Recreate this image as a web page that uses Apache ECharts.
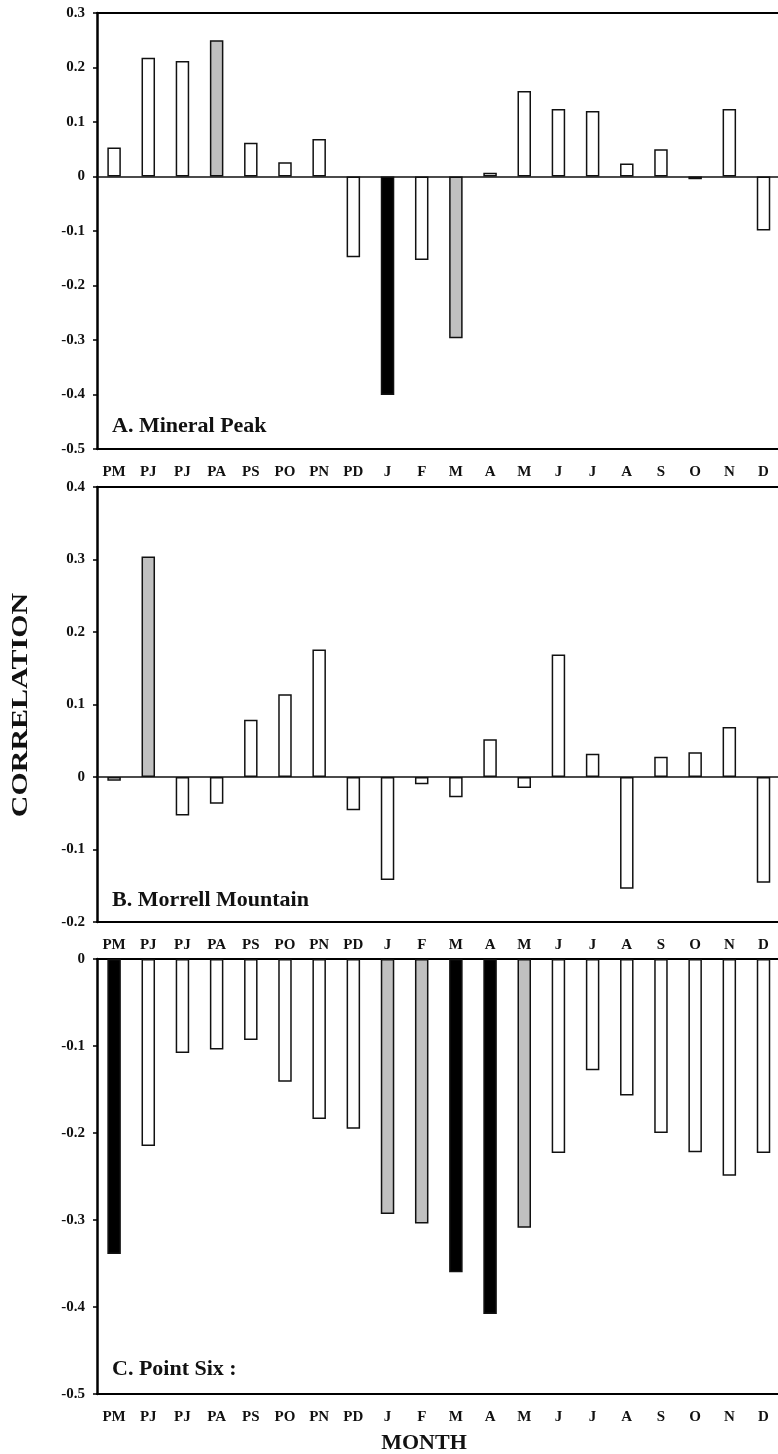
<!DOCTYPE html>
<html>
<head>
<meta charset="utf-8">
<style>
  html, body { margin: 0; padding: 0; background: #fff; }
  #chart { width: 778px; height: 1454px; }
</style>
<script src="https://cdn.jsdelivr.net/npm/echarts@6/dist/echarts.min.js"></script>
</head>
<body>
<div id="chart"></div>
<script>
// Monthly correlation of tree-ring index with climate, previous (P) and current year
const months = ['PM','PJ','PJ','PA','PS','PO','PN','PD','J','F','M','A','M','J','J','A','S','O','N','D'];

const mineralPeak = [0.053, 0.218, 0.212, 0.250, 0.062, 0.026, 0.069, -0.148, -0.401, -0.153,
                     -0.297, 0.007, 0.157, 0.124, 0.120, 0.024, 0.050, -0.005, 0.124, -0.099];
const morrellMountain = [-0.005, 0.304, -0.053, -0.037, 0.079, 0.114, 0.176, -0.046, -0.142, -0.010,
                         -0.028, 0.052, -0.015, 0.169, 0.032, -0.154, 0.028, 0.034, 0.069, -0.146];
const pointSix = [-0.339, -0.215, -0.108, -0.104, -0.093, -0.141, -0.184, -0.195, -0.293, -0.304,
                  -0.360, -0.408, -0.309, -0.223, -0.128, -0.157, -0.200, -0.222, -0.249, -0.223];

// significance class per bar: 0 = n.s., 1 = grey, 2 = black
const sigMineral = [0,0,0,1,0,0,0,0,2,0,1,0,0,0,0,0,0,0,0,0];
const sigMorrell = [0,1,0,0,0,0,0,0,0,0,0,0,0,0,0,0,0,0,0,0];
const sigPoint   = [2,0,0,0,0,0,0,0,1,1,2,2,1,0,0,0,0,0,0,0];

const panelTitles = ['A. Mineral Peak', 'B. Morrell Mountain', 'C. Point Six :'];
const yRanges = [[-0.5, 0.3], [-0.2, 0.4], [-0.5, 0]];

const fills = ['#ffffff', '#c0c0c0', '#000000'];
const SERIF = "'Liberation Serif', 'Times New Roman', serif";

const grids = [
  { left: 97, top: 13, width: 683.6, height: 436 },
  { left: 97, top: 487, width: 683.6, height: 435 },
  { left: 97, top: 959, width: 683.6, height: 435 }
];

const seriesValues = [mineralPeak, morrellMountain, pointSix];
const seriesSig = [sigMineral, sigMorrell, sigPoint];

const option = {
  animation: false,
  backgroundColor: '#fff',
  grid: grids.map(g => Object.assign({
    show: false, containLabel: false, outerBoundsMode: 'none'
  }, g)),
  xAxis: [],
  yAxis: [],
  series: [],
  graphic: []
};

grids.forEach((g, i) => {
  // zero line
  option.xAxis.push({
    type: 'category', gridIndex: i, data: months,
    axisLine: { show: true, onZero: true, lineStyle: { color: '#111', width: 1.5 } },
    axisTick: { show: false }, axisLabel: { show: false }, splitLine: { show: false }
  });
  // bottom frame edge with month labels
  option.xAxis.push({
    type: 'category', gridIndex: i, data: months, position: 'bottom',
    axisLine: { show: true, onZero: false, lineStyle: { color: '#000', width: 2 } },
    axisTick: { show: false },
    axisLabel: {
      show: true, interval: 0, margin: 16,
      fontFamily: SERIF, fontWeight: 'bold', fontSize: 15, color: '#111'
    },
    splitLine: { show: false }
  });
  // top frame edge
  option.xAxis.push({
    type: 'category', gridIndex: i, data: months, position: 'top',
    axisLine: { show: true, onZero: false, lineStyle: { color: '#000', width: 2 } },
    axisTick: { show: false }, axisLabel: { show: false }, splitLine: { show: false }
  });
  option.yAxis.push({
    type: 'value', gridIndex: i, min: yRanges[i][0], max: yRanges[i][1], interval: 0.1,
    axisLine: { show: true, lineStyle: { color: '#000', width: 2.5 } },
    axisTick: { show: true, inside: false, length: 4, lineStyle: { color: '#000', width: 1.5 } },
    splitLine: { show: false },
    axisLabel: {
      margin: 12, fontFamily: SERIF, fontWeight: 'bold', fontSize: 15, color: '#111',
      formatter: v => { const r = Math.round(v * 10) / 10; return r === 0 ? '0' : String(r); }
    }
  });
  option.series.push({
    type: 'bar', xAxisIndex: i * 3, yAxisIndex: i, barWidth: 13.5,
    data: seriesValues[i].map((v, k) => ({
      value: v,
      itemStyle: { color: fills[seriesSig[i][k]], borderColor: '#111', borderWidth: 1.5 }
    })),
    silent: true
  });
});

const titleY = [426, 900, 1369];
panelTitles.forEach((t, i) => {
  option.graphic.push({
    type: 'text', x: 112, y: titleY[i], z: 10,
    style: { text: t, font: `bold 22px ${SERIF}`, fill: '#111', align: 'left', verticalAlign: 'middle' }
  });
});

option.graphic.push({
  type: 'text', x: 21, y: 705, rotation: Math.PI / 2, scaleX: 1.25, z: 10,
  style: { text: 'CORRELATION', font: `bold 24px ${SERIF}`, fill: '#111', align: 'center', verticalAlign: 'middle' }
});
option.graphic.push({
  type: 'text', x: 424, y: 1443, z: 10,
  style: { text: 'MONTH', font: `bold 22px ${SERIF}`, fill: '#111', align: 'center', verticalAlign: 'middle' }
});

const chart = echarts.init(document.getElementById('chart'), null, { renderer: 'canvas' });
chart.setOption(option);
</script>
</body>
</html>
